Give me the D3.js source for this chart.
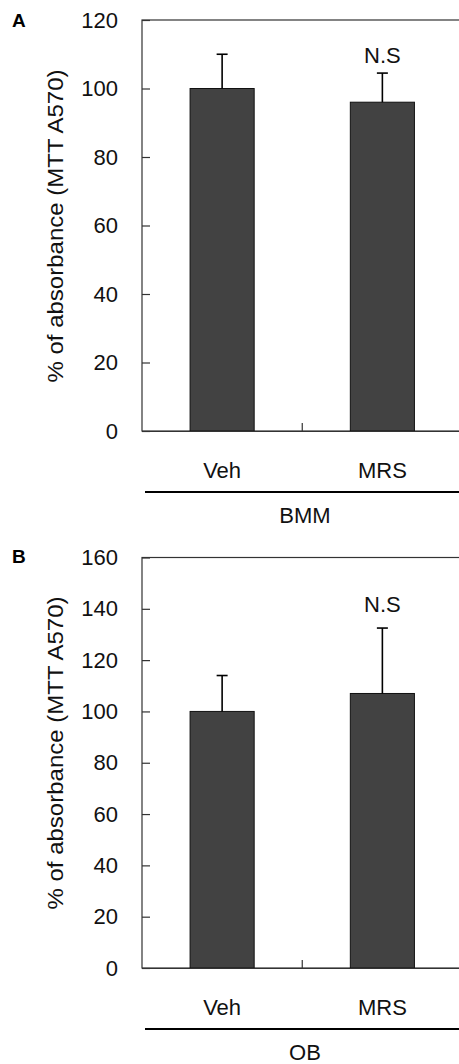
<!DOCTYPE html>
<html>
<head>
<meta charset="utf-8">
<script src="https://cdn.jsdelivr.net/npm/d3@7"></script>
<style>
  html, body { margin: 0; padding: 0; background: #fff; }
  svg { display: block; }
</style>
</head>
<body>
<div id="chart"></div>
<script>
// data
const groups = ["Veh", "MRS"];

const bmmMeans = [100, 96];
const bmmErrors = [10, 8.5];
const bmmTicks = [0, 20, 40, 60, 80, 100, 120];

const obMeans = [100, 107];
const obErrors = [14, 25.5];
const obTicks = [0, 20, 40, 60, 80, 100, 120, 140, 160];

const yTitle = "% of absorbance (MTT A570)";
const sigLabel = "N.S";

const width = 459;
const height = 1064;
const fontFamily = "Arial, 'Liberation Sans', Helvetica, sans-serif";

const svg = d3.select("#chart").append("svg")
    .attr("width", width)
    .attr("height", height);

const drawPanel = (p) => {
    const x = d3.scaleBand()
        .domain(groups)
        .range([142, 462.5])
        .paddingInner(0.6)
        .paddingOuter(0.3);
    const y = d3.scaleLinear()
        .domain([0, p.ticks[p.ticks.length - 1]])
        .range([p.bottom, p.top]);

    const g = svg.append("g");

    // frame (right side falls outside the picture)
    g.append("rect")
        .attr("x", 142)
        .attr("y", p.top)
        .attr("width", 320.5)
        .attr("height", p.bottom - p.top)
        .attr("fill", "none")
        .attr("stroke", "#333")
        .attr("stroke-width", 1.2);

    // bars
    const rows = groups.map((k, i) => ({ k, mean: p.means[i], err: p.errors[i] }));
    g.append("g")
        .selectAll("rect")
        .data(rows)
        .enter()
        .append("rect")
        .attr("x", (d) => x(d.k))
        .attr("y", (d) => y(d.mean))
        .attr("width", x.bandwidth())
        .attr("height", (d) => y(0) - y(d.mean))
        .attr("fill", "#424242")
        .attr("stroke", "#111")
        .attr("stroke-width", 1);

    // error bars (upper only)
    const eb = g.append("g")
        .selectAll("g")
        .data(rows)
        .enter()
        .append("g")
        .attr("stroke", "#000")
        .attr("stroke-width", 1.6);
    eb.append("line")
        .attr("x1", (d) => x(d.k) + x.bandwidth() / 2)
        .attr("x2", (d) => x(d.k) + x.bandwidth() / 2)
        .attr("y1", (d) => y(d.mean))
        .attr("y2", (d) => y(d.mean + d.err));
    eb.append("line")
        .attr("x1", (d) => x(d.k) + x.bandwidth() / 2 - 5.5)
        .attr("x2", (d) => x(d.k) + x.bandwidth() / 2 + 5.5)
        .attr("y1", (d) => y(d.mean + d.err))
        .attr("y2", (d) => y(d.mean + d.err));

    // N.S over the second bar
    const last = rows[rows.length - 1];
    g.append("text")
        .attr("x", x(last.k) + x.bandwidth() / 2)
        .attr("y", y(last.mean + last.err) - p.sigGap)
        .attr("text-anchor", "middle")
        .attr("font-family", fontFamily)
        .attr("font-size", 22)
        .attr("fill", "#111")
        .text(sigLabel);

    // y axis, ticks pointing inward
    const yAxis = g.append("g")
        .attr("transform", "translate(142,0)")
        .call(d3.axisLeft(y)
            .tickValues(p.ticks)
            .tickSizeInner(-8)
            .tickSizeOuter(0)
            .tickPadding(24));
    yAxis.select(".domain").remove();
    yAxis.selectAll(".tick line").attr("stroke", "#333").attr("stroke-width", 1.2);
    yAxis.selectAll("text")
        .attr("font-family", fontFamily)
        .attr("font-size", 22)
        .attr("fill", "#111");

    // x axis
    const xAxis = g.append("g")
        .attr("transform", `translate(0,${p.bottom})`)
        .call(d3.axisBottom(x)
            .tickSizeInner(0)
            .tickSizeOuter(0)
            .tickPadding(31));
    xAxis.select(".domain").attr("stroke", "#333").attr("stroke-width", 1.2);
    xAxis.selectAll(".tick line").remove();
    xAxis.selectAll("text")
        .attr("font-family", fontFamily)
        .attr("font-size", 22)
        .attr("fill", "#111");

    // divider tick between the two groups
    const mid = (x(groups[0]) + x(groups[1]) + x.bandwidth()) / 2;
    g.append("line")
        .attr("x1", mid).attr("x2", mid)
        .attr("y1", p.bottom).attr("y2", p.bottom - 8)
        .attr("stroke", "#333")
        .attr("stroke-width", 1.2);

    // group line and name
    g.append("line")
        .attr("x1", 145).attr("x2", width)
        .attr("y1", p.bottom + 61).attr("y2", p.bottom + 61)
        .attr("stroke", "#000")
        .attr("stroke-width", 2.2);
    g.append("text")
        .attr("x", 305)
        .attr("y", p.bottom + 92)
        .attr("text-anchor", "middle")
        .attr("font-family", fontFamily)
        .attr("font-size", 22)
        .attr("fill", "#111")
        .text(p.group);

    // y title
    g.append("text")
        .attr("transform", `translate(63,${p.titleY}) rotate(-90)`)
        .attr("text-anchor", "middle")
        .attr("font-family", fontFamily)
        .attr("font-size", 22)
        .attr("textLength", 313)
        .attr("lengthAdjust", "spacingAndGlyphs")
        .attr("fill", "#111")
        .text(yTitle);

    // panel letter
    g.append("text")
        .attr("x", 12)
        .attr("y", p.letterY)
        .attr("font-family", fontFamily)
        .attr("font-size", 19)
        .attr("font-weight", "bold")
        .attr("fill", "#000")
        .text(p.letter);
};

drawPanel({
    letter: "A", letterY: 27, group: "BMM",
    means: bmmMeans, errors: bmmErrors, ticks: bmmTicks,
    top: 20, bottom: 431, titleY: 226, sigGap: 10,
});

drawPanel({
    letter: "B", letterY: 563, group: "OB",
    means: obMeans, errors: obErrors, ticks: obTicks,
    top: 557.5, bottom: 968, titleY: 753, sigGap: 16,
});
</script>
</body>
</html>
